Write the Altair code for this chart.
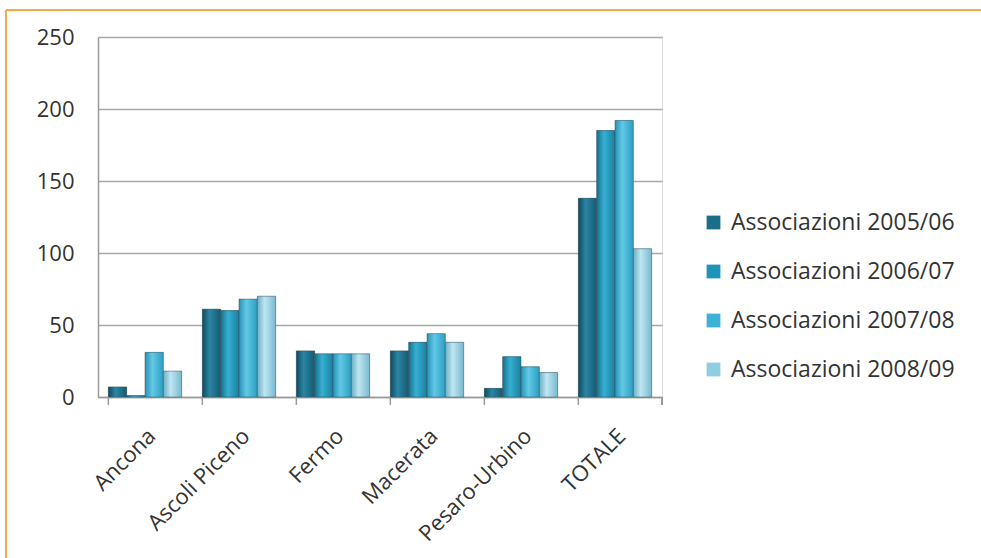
import altair as alt
import pandas as pd

categories = ["Ancona", "Ascoli Piceno", "Fermo", "Macerata", "Pesaro-Urbino", "TOTALE"]
series = ["Associazioni 2005/06", "Associazioni 2006/07", "Associazioni 2007/08", "Associazioni 2008/09"]
v_2005_06 = [7, 61, 32, 32, 6, 138]
v_2006_07 = [1, 60, 30, 38, 28, 185]
v_2007_08 = [31, 68, 30, 44, 21, 192]
v_2008_09 = [18, 70, 30, 38, 17, 103]
y_ticks = [0, 50, 100, 150, 200, 250]

colors = ["#1b6d88", "#1e94b8", "#3cb2d6", "#8fcde2"]
gradients = [
    ["#0e4a5e", "#2a86a3", "#145a72"],
    ["#146f8c", "#37b0d3", "#1a7f9f"],
    ["#2592b5", "#62c8e6", "#2c9fc2"],
    ["#6aaec5", "#bfe6f2", "#78b9cf"],
]

rows = []
for s, vals in zip(series, [v_2005_06, v_2006_07, v_2007_08, v_2008_09]):
    for c, v in zip(categories, vals):
        rows.append({"cat": c, "series": s, "value": v})
df = pd.DataFrame(rows)

W, H = 564, 360
FONT = "Open Sans"
TXT = "#333333"

xscale = alt.Scale(domain=categories, paddingInner=0.22, paddingOuter=0.11)
xoff = alt.XOffset("series:N", scale=alt.Scale(domain=series, paddingInner=0, paddingOuter=0))
yscale = alt.Scale(domain=[0, 250])

base = alt.Chart(df)

flat = base.mark_bar(size=18).encode(
    x=alt.X("cat:N", scale=xscale, sort=categories, title=None,
            axis=alt.Axis(labelAngle=-45, labelAlign="right", labelBaseline="top",
                          labelFontSize=22, labelColor=TXT, labelFont=FONT,
                          ticks=False, domainColor="#9a9a9a", domainWidth=1.5,
                          labelPadding=28, grid=False, labelLimit=0)),
    xOffset=xoff,
    y=alt.Y("value:Q", scale=yscale, title=None,
            axis=alt.Axis(values=y_ticks, labelFontSize=22, labelColor=TXT, labelFont=FONT,
                          ticks=False, labelPadding=24, domainColor="#9a9a9a", domainWidth=1.5,
                          gridColor="#a8a8a8", gridWidth=1.5)),
    color=alt.Color("series:N", scale=alt.Scale(domain=series, range=colors), title=None,
                    legend=alt.Legend(orient="none", legendX=604, legendY=174,
                                      symbolType="square", symbolSize=190,
                                      symbolStrokeWidth=0, labelFontSize=23,
                                      labelFont=FONT, labelColor=TXT, labelLimit=0,
                                      rowPadding=25, labelOffset=6)),
)

layers = [flat]
for s, g in zip(series, gradients):
    layers.append(
        base.transform_filter(alt.datum.series == s).mark_bar(
            stroke="#3d4f57", strokeWidth=0.5,
            color=alt.Gradient(gradient="linear", x1=0, x2=1, y1=0, y2=0,
                               stops=[alt.GradientStop(color=g[0], offset=0),
                                      alt.GradientStop(color=g[1], offset=0.4),
                                      alt.GradientStop(color=g[2], offset=1)])
        ).encode(
            x=alt.X("cat:N", scale=xscale, sort=categories),
            xOffset=xoff,
            y=alt.Y("value:Q", scale=yscale),
        )
    )

ticks_df = pd.DataFrame({"cat": categories})
tick_rules = alt.Chart(ticks_df).mark_rule(color="#9a9a9a", strokeWidth=1.5).encode(
    x=alt.X("cat:N", scale=xscale, sort=categories, bandPosition=0),
    y=alt.value(H), y2=alt.value(H + 8),
)
end_tick = alt.Chart(ticks_df).mark_rule(color="#9a9a9a", strokeWidth=1.5).encode(
    x=alt.value(W), y=alt.value(H), y2=alt.value(H + 8),
)
frame_top = alt.Chart(ticks_df).mark_rule(color="#f5a94a", strokeWidth=2).encode(
    x=alt.value(-92), x2=alt.value(900), y=alt.value(-27),
)
frame_left = alt.Chart(ticks_df).mark_rule(color="#f5a94a", strokeWidth=2).encode(
    x=alt.value(-92), y=alt.value(-27), y2=alt.value(600),
)

chart = alt.layer(*layers, tick_rules, end_tick, frame_top, frame_left).properties(
    width=W, height=H,
    padding={"left": 98, "top": 37, "right": 319, "bottom": 161},
    autosize=alt.AutoSizeParams(type="none"),
).configure_view(stroke=None).configure(background="white")

chart.save("out.html", embed_options={"renderer": "svg", "actions": False})
